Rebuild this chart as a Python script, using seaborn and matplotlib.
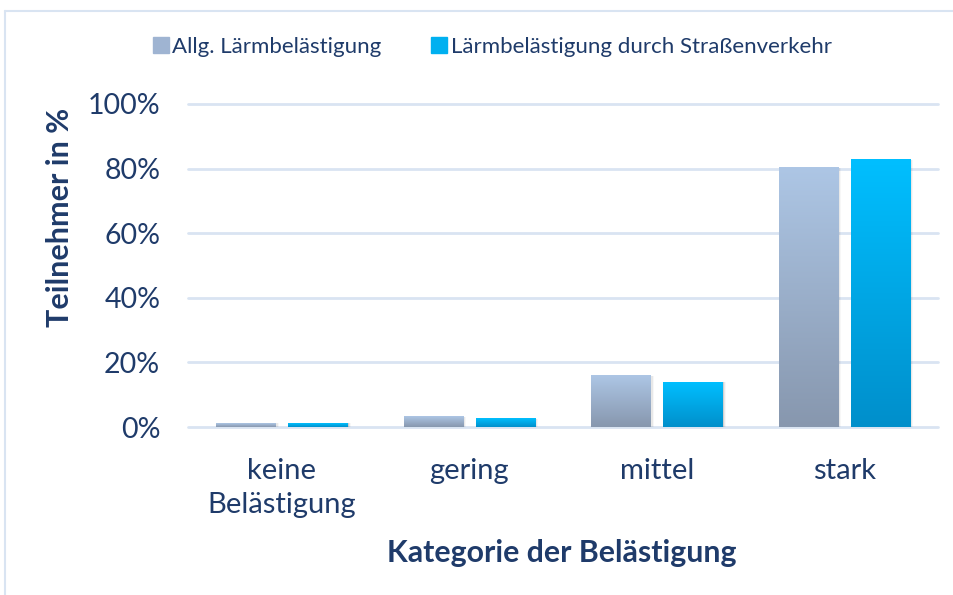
import numpy as np
import pandas as pd
import matplotlib
matplotlib.use("Agg")
import matplotlib.pyplot as plt
from matplotlib.lines import Line2D
from matplotlib.patches import Rectangle
from matplotlib.colors import LinearSegmentedColormap
import seaborn as sns

categories = ["keine\nBelästigung", "gering", "mittel", "stark"]
series_names = ["Allg. Lärmbelästigung", "Lärmbelästigung durch Straßenverkehr"]
allg_values = [1.2, 3.1, 15.8, 80.2]
strasse_values = [1.2, 2.5, 13.9, 82.7]
y_ticks = [0, 20, 40, 60, 80, 100]
y_tick_labels = ["0%", "20%", "40%", "60%", "80%", "100%"]

df = pd.DataFrame({
    "Kategorie": categories * 2,
    "Serie": [series_names[0]] * 4 + [series_names[1]] * 4,
    "Wert": allg_values + strasse_values,
})

sns.set_theme(style="white")
plt.rcParams["font.family"] = ["Lato", "DejaVu Sans"]
TXT = "#1F3B6A"
GRID = "#D9E4F2"

fig = plt.figure(figsize=(9.54, 5.95), dpi=100)
ax = fig.add_axes([188 / 954, 1 - 427 / 595, 750 / 954, 323 / 595])

top_cols = ["#ADC6E5", "#00BFFF"]
bot_cols = ["#8797AE", "#008FCB"]
sns.barplot(data=df, x="Kategorie", y="Wert", hue="Serie", order=categories,
            hue_order=series_names, palette=top_cols, width=0.77, gap=0.18,
            ax=ax, legend=False, zorder=3)

ax.set_ylim(0, 100)
ax.set_xlim(-0.5, 3.5)

# gradient fill for bars
grad = np.linspace(0, 1, 256).reshape(-1, 1)
patches = list(ax.patches)
for p in patches:
    x, w, h = p.get_x(), p.get_width(), p.get_height()
    fc = p.get_facecolor()
    idx = 0 if abs(fc[0] - 0xAD / 255) < 0.05 else 1
    cmap = LinearSegmentedColormap.from_list("g", [bot_cols[idx], top_cols[idx]])
    for k, a in enumerate([0.10, 0.06, 0.03]):
        off = 0.006 * (k + 1)
        ax.add_patch(Rectangle((x + off, 0), w, h, color="#000000",
                               alpha=a, lw=0, zorder=2))
    ax.imshow(grad, extent=[x, x + w, 0, h], origin="lower", aspect="auto",
              cmap=cmap, zorder=4, interpolation="bilinear")
    p.set_visible(False)

ax.set_ylim(0, 100)
ax.set_xlim(-0.5, 3.5)

ax.set_yticks(y_ticks)
ax.set_yticklabels(y_tick_labels)
for yv in y_ticks:
    ax.axhline(yv, color=GRID, lw=2, zorder=1, clip_on=False)
for s in ax.spines.values():
    s.set_visible(False)
ax.tick_params(axis="y", length=0, pad=20, labelsize=20.5, labelcolor=TXT)
ax.tick_params(axis="x", length=0, pad=22, labelsize=21, labelcolor=TXT)
for lab in ax.get_xticklabels():
    lab.set_linespacing(1.4)

ax.set_ylabel("Teilnehmer in %", fontsize=22, fontweight="bold", color=TXT)
ax.yaxis.set_label_coords(60 / 954, 1 - 217 / 595, transform=fig.transFigure)
ax.set_xlabel("Kategorie der Belästigung", fontsize=21.8, fontweight="bold", color=TXT)
ax.xaxis.set_label_coords(562 / 954, 1 - 553 / 595, transform=fig.transFigure)
ax.xaxis.label.set_va("center")
ax.yaxis.label.set_va("center")

handles = [Line2D([], [], marker="s", linestyle="none", markersize=11,
                  markerfacecolor=c, markeredgecolor=c) for c in ["#9FB4D2", "#00B0F0"]]
fig.legend(handles, series_names, loc="center", bbox_to_anchor=(492 / 954, 1 - 47 / 595),
           ncol=2, frameon=False, fontsize=16, labelcolor=TXT, handletextpad=0.1,
           columnspacing=2.2, handlelength=0.8)

fig.add_artist(Line2D([5 / 954, 1], [1 - 11 / 595, 1 - 11 / 595], color=GRID, lw=1.5,
                      transform=fig.transFigure))
fig.add_artist(Line2D([5 / 954, 5 / 954], [0, 1 - 11 / 595], color=GRID, lw=1.5,
                      transform=fig.transFigure))

fig.savefig("out.png", dpi=100, facecolor="white")
